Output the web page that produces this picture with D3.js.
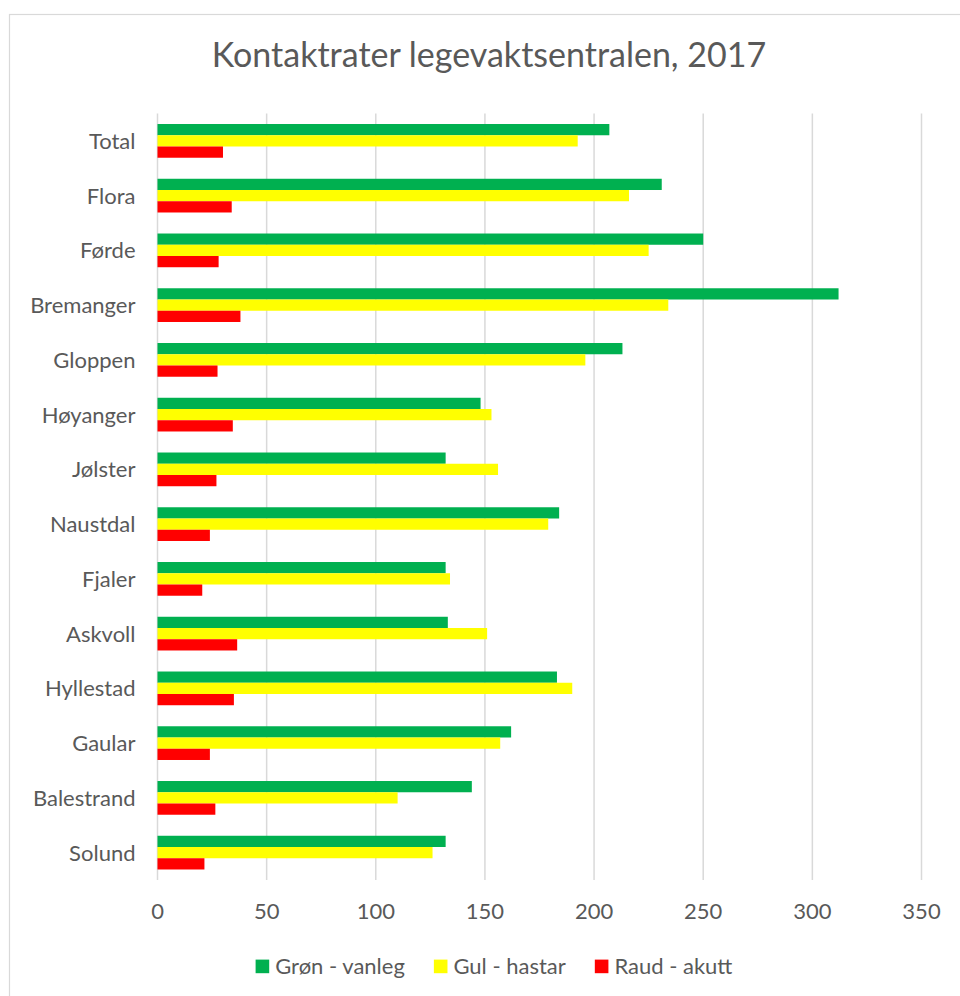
<!DOCTYPE html>
<html>
<head>
<meta charset="utf-8">
<script src="https://cdn.jsdelivr.net/npm/d3@7"></script>
<style>
    body { margin: 0; background: #fff; }
    svg { display: block; font-family: Lato, "Open Sans", sans-serif; }
    .grid line { stroke: #d9d9d9; stroke-width: 1.5; }
</style>
</head>
<body>
<div class="chart"></div>
<script>
const categories = ["Total", "Flora", "Førde", "Bremanger", "Gloppen", "Høyanger", "Jølster",
    "Naustdal", "Fjaler", "Askvoll", "Hyllestad", "Gaular", "Balestrand", "Solund"]
const seriesNames = ["Grøn - vanleg", "Gul - hastar", "Raud - akutt"]
const gronValues = [207, 231, 250, 312, 213, 148, 132, 184, 132, 133, 183, 162, 144, 132]
const gulValues = [192.5, 216, 225, 234, 196, 153, 156, 179, 134, 151, 190, 157, 110, 126]
const raudValues = [30, 34, 28, 38, 27.5, 34.5, 27, 24, 20.5, 36.5, 35, 24, 26.5, 21.5]
const xTicks = [0, 50, 100, 150, 200, 250, 300, 350]
const colors = ["#00b050", "#ffff00", "#ff0000"]

const width = 960,
    height = 996,
    margin = {
        top: 113.5,
        right: 38.5,
        bottom: 116,
        left: 157.5
    }

const data = categories.map((c, i) => ({
    category: c,
    values: [gronValues[i], gulValues[i], raudValues[i]]
}))

const svg = d3.select(".chart")
    .append("svg")
    .attr("width", width)
    .attr("height", height)

// chart frame
svg.append("rect")
    .attr("x", 9.5)
    .attr("y", 14.5)
    .attr("width", 1000)
    .attr("height", 1000)
    .attr("fill", "#fff")
    .attr("stroke", "#d9d9d9")
    .attr("stroke-width", 1.2)

svg.append("text")
    .attr("x", 489)
    .attr("y", 67)
    .attr("text-anchor", "middle")
    .attr("fill", "#595959")
    .style("font-size", "34px")
    .text("Kontaktrater legevaktsentralen, 2017")

const innerW = width - margin.left - margin.right,
    innerH = height - margin.top - margin.bottom

const g = svg.append("g")
    .attr("transform", `translate(${margin.left},${margin.top})`)

const x = d3.scaleLinear().domain([0, 350]).range([0, innerW])
const y0 = d3.scaleBand()
    .domain(categories)
    .range([0, innerH])
    .paddingInner(0.384)
    .paddingOuter(0.192)
const y1 = d3.scaleBand()
    .domain(d3.range(seriesNames.length))
    .range([0, y0.bandwidth()])

g.append("g")
    .attr("class", "grid")
    .selectAll("line")
    .data(xTicks)
    .enter().append("line")
    .attr("x1", d => x(d))
    .attr("x2", d => x(d))
    .attr("y1", 0)
    .attr("y2", innerH)

const rows = g.selectAll(".row")
    .data(data)
    .enter().append("g")
    .attr("class", "row")
    .attr("transform", d => `translate(0,${y0(d.category)})`)

rows.selectAll("rect")
    .data(d => d.values)
    .enter().append("rect")
    .attr("x", x(0))
    .attr("y", (d, i) => y1(i))
    .attr("width", d => x(d) - x(0))
    .attr("height", y1.bandwidth())
    .attr("fill", (d, i) => colors[i])

// category labels
g.append("g")
    .selectAll("text")
    .data(categories)
    .enter().append("text")
    .attr("x", -22)
    .attr("y", d => y0(d) + y0.bandwidth() / 2)
    .attr("dy", "0.36em")
    .attr("text-anchor", "end")
    .attr("fill", "#595959")
    .style("font-size", "22px")
    .text(d => d)

// x tick labels
g.append("g")
    .selectAll("text")
    .data(xTicks)
    .enter().append("text")
    .attr("x", d => x(d))
    .attr("y", innerH + 39)
    .attr("text-anchor", "middle")
    .attr("fill", "#595959")
    .style("font-size", "22px")
    .text(d => d)

// legend
const legend = svg.append("g")
const items = legend.selectAll(".item")
    .data(seriesNames)
    .enter().append("g")
    .attr("class", "item")

items.append("rect")
    .attr("y", 959.6)
    .attr("width", 13.6)
    .attr("height", 13.6)
    .attr("fill", (d, i) => colors[i])

items.append("text")
    .attr("x", 19.6)
    .attr("y", 974)
    .attr("fill", "#595959")
    .style("font-size", "22px")
    .text(d => d)

let offset = 0
const widths = []
items.each(function () {
    const w = 19.6 + d3.select(this).select("text").node().getComputedTextLength()
    widths.push(w)
})
const gap = 29
const total = d3.sum(widths) + gap * (widths.length - 1)
offset = 494 - total / 2
items.attr("transform", (d, i) => {
    const t = `translate(${offset},0)`
    offset += widths[i] + gap
    return t
})
</script>
</body>
</html>
